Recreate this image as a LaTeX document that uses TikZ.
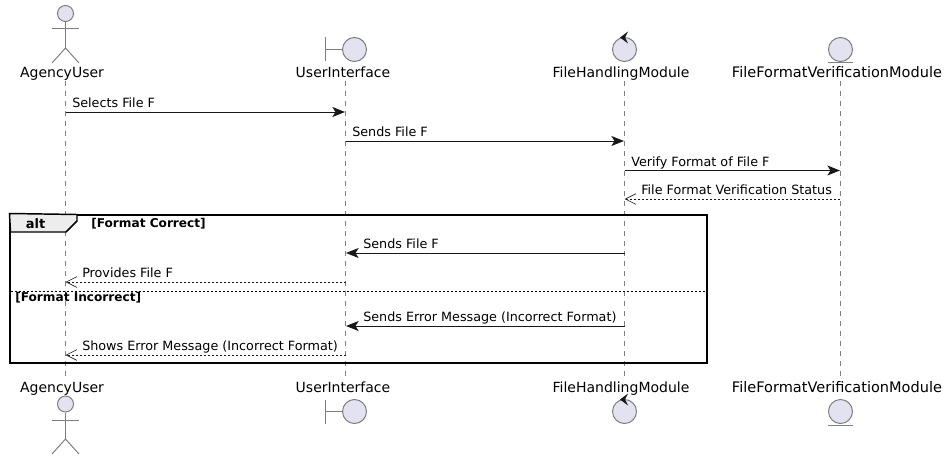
\documentclass[tikz,border=0pt]{standalone}
\usepackage{fontspec}
\setmainfont{DejaVu Sans}
\usetikzlibrary{arrows.meta}
\definecolor{partfill}{HTML}{E2E2F0}
\definecolor{partline}{HTML}{7F7F7F}
\definecolor{msgline}{HTML}{181818}
\tikzset{
    lifeline/.style={draw=partline, line width=0.6pt, dash pattern=on 3.75pt off 3.75pt},
    partshape/.style={draw=partline, fill=partfill, circle, line width=0.75pt, inner sep=0pt, minimum size=18pt},
    partbar/.style={draw=partline, line width=0.75pt},
    partname/.style={font=\fontsize{10.5pt}{12pt}\selectfont, anchor=base, inner sep=0pt},
    partwide/.style={partname, font=\fontsize{10.9pt}{12pt}\selectfont},
    msgtext/.style={font=\fontsize{9.56pt}{12pt}\selectfont, anchor=base west, inner sep=0pt},
    guardtext/.style={font=\fontsize{9.1pt}{10pt}\selectfont\bfseries, anchor=base west, inner sep=0pt},
    callmsg/.style={draw=msgline, line width=0.75pt, -{Stealth[length=9.5pt,width=7.5pt,inset=2.4pt]}},
    replymsg/.style={draw=msgline, line width=0.75pt, dash pattern=on 1.5pt off 1.5pt, -{Straight Barb[length=8pt,width=8pt,line width=0.5pt]}},
}
\begin{document}
\begin{tikzpicture}[x=0.75pt, y=-0.75pt]
    \useasboundingbox (0,0) rectangle (949,460);

    % Lifelines
    \coordinate (user_top) at (65.5,81);
    \coordinate (user_end) at (65.5,378);
    \coordinate (ui_top) at (345.5,81);
    \coordinate (ui_end) at (345.5,378);
    \coordinate (handler_top) at (624.5,81);
    \coordinate (handler_end) at (624.5,378);
    \coordinate (verifier_top) at (840.5,81);
    \coordinate (verifier_end) at (840.5,378);
    \draw[lifeline] (user_top) -- (user_end);
    \draw[lifeline] (ui_top) -- (ui_end);
    \draw[lifeline] (handler_top) -- (handler_end);
    \draw[lifeline] (verifier_top) -- (verifier_end);

    % Participant names
    \node[partname] (user_name) at (62,78) {AgencyUser};
    \node[partname] (ui_name) at (343,78) {UserInterface};
    \node[partname] (handler_name) at (621,78) {FileHandlingModule};
    \node[partwide] (verifier_name) at (837,78) {FileFormatVerificationModule};
    \node[partname] (user_foot) at (62,392) {AgencyUser};
    \node[partname] (ui_foot) at (343,392) {UserInterface};
    \node[partname] (handler_foot) at (621,392) {FileHandlingModule};
    \node[partwide] (verifier_foot) at (837,392) {FileFormatVerificationModule};

    % Actor
    \node[partshape, minimum size=12pt] (actor_head) at (65.5,13.5) {};
    \coordinate (actor_hip) at (65.5,48);
    \draw[partbar] (actor_head) -- (actor_hip);
    \draw[partbar] (52,29) -- (79,29);
    \draw[partbar] (52,63) -- (actor_hip) -- (79,63);
    \node[partshape, minimum size=12pt] (actor_head_foot) at (65.5,404) {};
    \coordinate (actor_hip_foot) at (65.5,439);
    \draw[partbar] (actor_head_foot) -- (actor_hip_foot);
    \draw[partbar] (52,420) -- (79,420);
    \draw[partbar] (52,454) -- (actor_hip_foot) -- (79,454);

    % Boundary
    \node[partshape] (boundary) at (354.5,49.5) {};
    \coordinate (boundary_bar) at (325.5,49.5);
    \draw[partbar] (boundary_bar) -- (boundary);
    \draw[partbar] (325.5,37.5) -- (325.5,61.5);
    \node[partshape] (boundary_foot) at (354.5,411.5) {};
    \coordinate (boundary_bar_foot) at (325.5,411.5);
    \draw[partbar] (boundary_bar_foot) -- (boundary_foot);
    \draw[partbar] (325.5,399.5) -- (325.5,423.5);

    % Control
    \node[partshape] (control) at (624.5,49.5) {};
    \fill[msgline] (620,37.5) -- (628,31.5) -- (625,37.5) -- (628,43.5) -- cycle;
    \node[partshape] (control_foot) at (624.5,411.5) {};
    \fill[msgline] (620,399.5) -- (628,393.5) -- (625,399.5) -- (628,405.5) -- cycle;

    % Entity
    \node[partshape] (entity) at (840.5,49.5) {};
    \draw[partbar] (828,63) -- (853,63);
    \node[partshape] (entity_foot) at (840.5,411.5) {};
    \draw[partbar] (828,425) -- (853,425);

    % Alt frame
    \node[draw=black, line width=1.5pt, minimum width=522.4pt, minimum height=111pt, inner sep=0pt] (alt_frame) at (358.75,288.5) {};
    \draw[fill=black!7, draw=black, line width=1.1pt] (alt_frame.north west) -- (77,214.5) -- (77,221) -- (66,232) -- (10.5,232) -- cycle;
    \node[font=\fontsize{9.75pt}{12pt}\selectfont\bfseries, inner sep=0pt] (alt_label) at (35.5,223.5) {alt};
    \node[guardtext] (guard_correct) at (91,227) {[Format Correct]};
    \node[guardtext] (guard_incorrect) at (15,301) {[Format Incorrect]};
    \coordinate (else_left) at (10.5,291);
    \coordinate (else_right) at (707,291);
    \draw[black, line width=0.75pt, dash pattern=on 1.5pt off 1.5pt] (else_left) -- (else_right);

    % Message ends
    \coordinate (user_m1) at (65.5,112);
    \coordinate (ui_m1) at (345,112);
    \coordinate (ui_m2) at (345.5,141);
    \coordinate (handler_m2) at (624,141);
    \coordinate (handler_m3) at (624.5,170.5);
    \coordinate (verifier_m3) at (840,170.5);
    \coordinate (verifier_m4) at (840,199);
    \coordinate (handler_m4) at (624.5,199);
    \coordinate (handler_m5) at (624.5,253);
    \coordinate (ui_m5) at (346,253);
    \coordinate (ui_m6) at (345.5,282);
    \coordinate (user_m6) at (65.5,282);
    \coordinate (handler_m7) at (624.5,326);
    \coordinate (ui_m7) at (346,326);
    \coordinate (ui_m8) at (345.5,355);
    \coordinate (user_m8) at (65.5,355);

    % Messages
    \draw[callmsg] (user_m1) -- (ui_m1);
    \draw[callmsg] (ui_m2) -- (handler_m2);
    \draw[callmsg] (handler_m3) -- (verifier_m3);
    \draw[replymsg] (verifier_m4) -- (handler_m4);
    \draw[callmsg] (handler_m5) -- (ui_m5);
    \draw[replymsg] (ui_m6) -- (user_m6);
    \draw[callmsg] (handler_m7) -- (ui_m7);
    \draw[replymsg] (ui_m8) -- (user_m8);

    % Message labels
    \node[msgtext] (label_m1) at (72,108) {Selects File F};
    \node[msgtext] (label_m2) at (352,136.5) {Sends File F};
    \node[msgtext] (label_m3) at (631,166) {Verify Format of File F};
    \node[msgtext] (label_m4) at (641,194.5) {File Format Verification Status};
    \node[msgtext] (label_m5) at (363,248.5) {Sends File F};
    \node[msgtext] (label_m6) at (82,277.5) {Provides File F};
    \node[msgtext] (label_m7) at (363,321) {Sends Error Message (Incorrect Format)};
    \node[msgtext] (label_m8) at (82,350) {Shows Error Message (Incorrect Format)};
\end{tikzpicture}
\end{document}
